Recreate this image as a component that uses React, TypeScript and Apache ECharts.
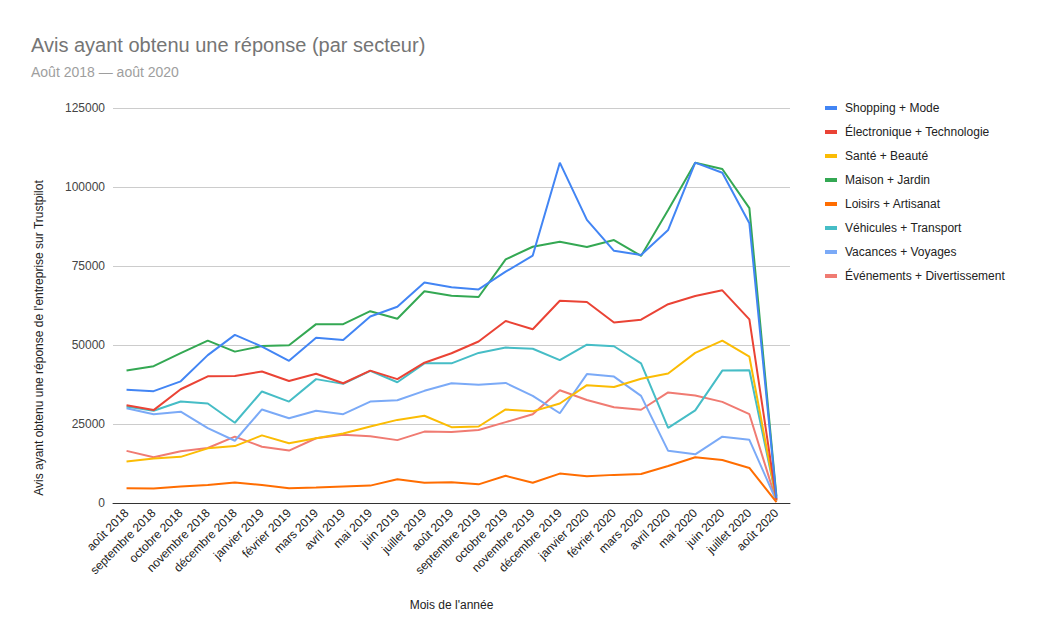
import React, { useEffect, useRef } from "react";
import * as echarts from "echarts";

const categories = [
  "août 2018", "septembre 2018", "octobre 2018", "novembre 2018", "décembre 2018",
  "janvier 2019", "février 2019", "mars 2019", "avril 2019", "mai 2019", "juin 2019",
  "juillet 2019", "août 2019", "septembre 2019", "octobre 2019", "novembre 2019",
  "décembre 2019", "janvier 2020", "février 2020", "mars 2020", "avril 2020",
  "mai 2020", "juin 2020", "juillet 2020", "août 2020",
];

const seriesNames = [
  "Shopping + Mode",
  "Électronique + Technologie",
  "Santé + Beauté",
  "Maison + Jardin",
  "Loisirs + Artisanat",
  "Véhicules + Transport",
  "Vacances + Voyages",
  "Événements + Divertissement",
];

const colors = ["#4285F4", "#EA4335", "#FBBC04", "#34A853", "#FF6D01", "#46BDC6", "#7BAAF7", "#F07B72"];

const shoppingMode = [35800, 35400, 38500, 46800, 53200, 49500, 45000, 52300, 51600, 59000, 62100, 69800, 68300, 67600, 73200, 78300, 107700, 89600, 79800, 78500, 86400, 107700, 104500, 88500, 1500];
const electronique = [30900, 29400, 36000, 40100, 40200, 41600, 38600, 40900, 37900, 41900, 39200, 44400, 47400, 51100, 57600, 55000, 64000, 63600, 57100, 58000, 62900, 65500, 67300, 58100, 1000];
const santeBeaute = [13100, 14100, 14600, 17300, 18000, 21400, 18900, 20500, 22000, 24200, 26300, 27600, 24000, 24200, 29600, 29000, 31500, 37300, 36700, 39300, 41000, 47500, 51400, 46300, 900];
const maisonJardin = [41900, 43300, 47400, 51400, 47900, 49700, 49900, 56600, 56600, 60700, 58300, 67000, 65600, 65200, 77100, 81100, 82700, 81000, 83200, 78200, 92700, 107700, 105700, 93300, 2000];
const loisirs = [4700, 4600, 5200, 5700, 6500, 5700, 4700, 4900, 5200, 5500, 7500, 6400, 6600, 5900, 8600, 6400, 9300, 8500, 8900, 9200, 11700, 14500, 13600, 11100, 300];
const vehicules = [30500, 29200, 32100, 31500, 25400, 35300, 32100, 39200, 37700, 41800, 38200, 44200, 44200, 47500, 49200, 48800, 45200, 50100, 49600, 44200, 23800, 29300, 41900, 42000, 1200];
const vacances = [30000, 28100, 28900, 23700, 19700, 29600, 26800, 29200, 28100, 32100, 32500, 35500, 37900, 37400, 38000, 33900, 28400, 40800, 40000, 33900, 16500, 15400, 21000, 20000, 600];
const evenements = [16500, 14500, 16400, 17400, 21000, 17800, 16600, 20500, 21600, 21100, 19900, 22600, 22500, 23100, 25600, 28100, 35700, 32600, 30300, 29500, 35000, 34000, 32000, 28100, 500];

const seriesData = [shoppingMode, electronique, santeBeaute, maisonJardin, loisirs, vehicules, vacances, evenements];

const FONT = "'Liberation Sans', Arial, sans-serif";

export default function App() {
  const ref = useRef<HTMLDivElement>(null);
  useEffect(() => {
    if (!ref.current) return;
    const chart = echarts.init(ref.current, undefined, { renderer: "svg" });
    chart.setOption({
      animation: false,
      backgroundColor: "#ffffff",
      textStyle: { fontFamily: FONT },
      title: [
        {
          text: "Avis ayant obtenu une réponse (par secteur)",
          left: 31,
          top: 35,
          padding: 0,
          textStyle: { fontSize: 20, fontWeight: "normal", color: "#757575", fontFamily: FONT },
        },
        {
          text: "Août 2018 — août 2020",
          left: 31,
          top: 65,
          padding: 0,
          textStyle: { fontSize: 14, fontWeight: "normal", color: "#9e9e9e", fontFamily: FONT },
        },
      ],
      legend: {
        orient: "vertical",
        left: 825,
        top: 101,
        padding: 0,
        icon: "rect",
        itemWidth: 12,
        itemHeight: 4,
        itemGap: 10,
        textStyle: { fontSize: 12, color: "#222222", lineHeight: 14, fontFamily: FONT, padding: [0, 0, 0, 3] },
        data: seriesNames,
      },
      grid: { left: 113, right: 249, top: 108, bottom: 139, containLabel: false },
      xAxis: {
        type: "category",
        data: categories,
        boundaryGap: true,
        name: "Mois de l'année",
        nameLocation: "middle",
        nameGap: 96,
        nameTextStyle: { fontSize: 12, color: "#222222", fontFamily: FONT },
        axisLine: { show: true, lineStyle: { color: "#333333", width: 1 } },
        axisTick: { show: false },
        axisLabel: { rotate: 45, fontSize: 12, color: "#222222", margin: 8, interval: 0, fontFamily: FONT },
        splitLine: { show: false },
      },
      yAxis: {
        type: "value",
        min: 0,
        max: 125000,
        interval: 25000,
        axisLine: { show: false },
        axisTick: { show: false },
        axisLabel: {
          fontSize: 12,
          color: "#444444",
          margin: 8,
          fontFamily: FONT,
          formatter: (v: number) => String(v),
        },
        splitLine: { lineStyle: { color: "#cccccc", width: 1 } },
      },
      graphic: [
        {
          type: "text",
          x: 39,
          y: 338,
          rotation: Math.PI / 2,
          style: {
            text: "Avis ayant obtenu une réponse de l'entreprise sur Trustpilot",
            fontSize: 12,
            fill: "#222222",
            fontFamily: FONT,
            align: "center",
            verticalAlign: "middle",
          },
        },
      ],
      series: seriesNames.map((name, i) => ({
        name,
        type: "line",
        data: seriesData[i],
        symbol: "none",
        showSymbol: false,
        smooth: false,
        color: colors[i],
        lineStyle: { width: 2, color: colors[i] },
        itemStyle: { color: colors[i] },
        z: 10 - i,
      })),
    });
    return () => chart.dispose();
  }, []);
  return (
    <div
      ref={ref}
      style={{ position: "absolute", left: 0, top: 0, width: 1039, height: 642 }}
    />
  );
}
